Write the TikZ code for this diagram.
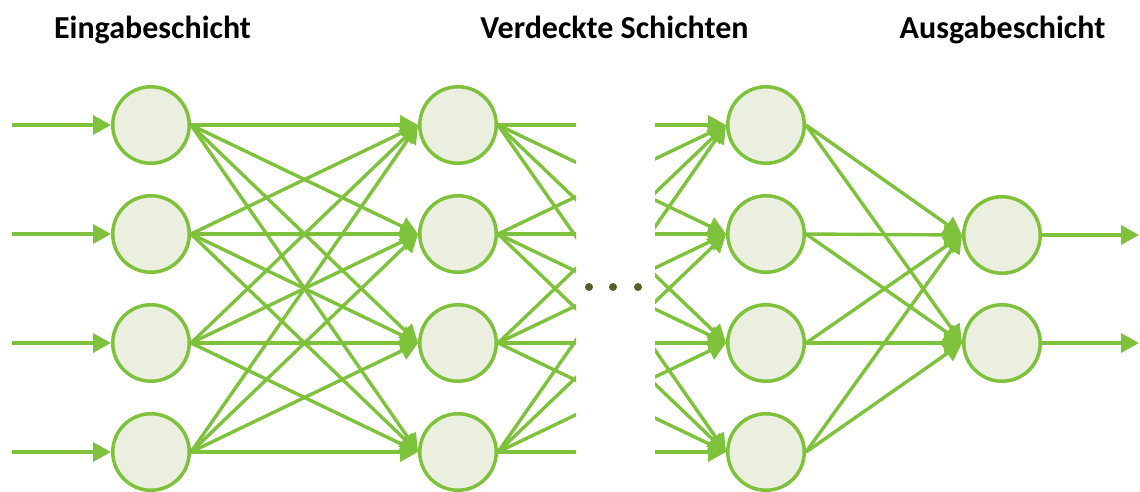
\documentclass[tikz,border=0pt]{standalone}
\usepackage{fontspec}
\setmainfont{Carlito}
\usetikzlibrary{arrows.meta}
\definecolor{netgreen}{HTML}{7DC23A}
\definecolor{cellfill}{HTML}{EBEFDF}
\definecolor{dotolive}{HTML}{4F6228}
\begin{document}
\begin{tikzpicture}[x=1pt,y=-1pt,
  neuron/.style={circle,draw=netgreen,fill=cellfill,line width=3.5pt,minimum size=76.5pt,inner sep=0pt},
  link/.style={draw=netgreen,line width=3.4pt},
  arrowlink/.style={link,-{Triangle[length=18pt,width=19pt]}},
  title/.style={font=\bfseries\fontsize{32}{37}\selectfont,anchor=base}]
\useasboundingbox (0,0) rectangle (1140,491);

% layer titles
\node[title] (t1) at (152.5,38) {Eingabeschicht};
\node[title] (t2) at (614.5,38) {Verdeckte Schichten};
\node[title] (t3) at (1002.5,38) {Ausgabeschicht};

% neurons
\foreach \i/\y in {1/125,2/234,3/343,4/452}{
  \node[neuron] (a\i) at (151,\y) {};
  \node[neuron] (b\i) at (458,\y) {};
  \node[neuron] (c\i) at (766,\y) {};
}
\node[neuron] (d1) at (1002,235) {};
\node[neuron] (d2) at (1002,343) {};

% inputs
\foreach \i/\y in {1/125,2/234,3/343,4/452}{
  \coordinate (in\i) at (12,\y);
  \draw[arrowlink] (in\i) -- (a\i.west);
}

% input layer -> first hidden layer
\foreach \i in {1,...,4}{
  \foreach \j in {1,...,4}{
    \draw[arrowlink] (a\i.east) -- (b\j.west);
  }
}

% first hidden layer -> last hidden layer, interrupted in the middle
\begin{scope}
  \clip (0,60) rectangle (576,491);
  \foreach \i in {1,...,4}{
    \foreach \j in {1,...,4}{
      \draw[arrowlink] (b\i.east) -- (c\j.west);
    }
  }
\end{scope}
\begin{scope}
  \clip (655,60) rectangle (1140,491);
  \foreach \i in {1,...,4}{
    \foreach \j in {1,...,4}{
      \draw[arrowlink] (b\i.east) -- (c\j.west);
    }
  }
\end{scope}

% last hidden layer -> output layer
\foreach \i in {1,...,4}{
  \foreach \j in {1,2}{
    \draw[arrowlink] (c\i.east) -- (d\j.west);
  }
}

% outputs
\coordinate (out1) at (1139,235);
\coordinate (out2) at (1139,343);
\draw[arrowlink] (d1.east) -- (out1);
\draw[arrowlink] (d2.east) -- (out2);

% ellipsis between hidden layers
\foreach \x/\n in {589/1,613/2,638/3}{
  \fill[dotolive] (\x,287) circle (4pt) coordinate (dot\n);
}
\end{tikzpicture}
\end{document}
